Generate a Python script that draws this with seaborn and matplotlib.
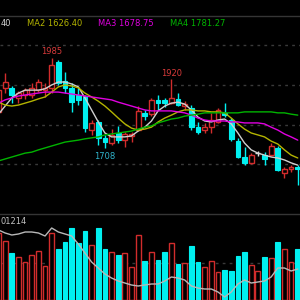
import seaborn as sns
import pandas as pd
import matplotlib.pyplot as plt

# velas (precios)
open_ = [1819, 1893, 1893, 1862, 1871, 1871, 1886, 1886, 1893, 1973, 1914, 1893, 1871, 1865, 1763, 1788,
         1739, 1723, 1754, 1732, 1745, 1763, 1816, 1812, 1856, 1856, 1846, 1859, 1837, 1831, 1772, 1763,
         1772, 1788, 1816, 1794, 1729, 1680, 1662, 1692, 1686, 1686, 1708, 1631, 1643, 1649]
high = [1893, 1939, 1899, 1883, 1893, 1908, 1920, 1908, 1985, 1979, 1942, 1908, 1893, 1871, 1794, 1794,
        1748, 1766, 1775, 1757, 1757, 1837, 1825, 1862, 1871, 1862, 1920, 1877, 1852, 1840, 1788, 1785,
        1816, 1831, 1846, 1800, 1739, 1711, 1692, 1698, 1695, 1723, 1714, 1649, 1655, 1655]
low = [1816, 1877, 1846, 1846, 1859, 1862, 1880, 1865, 1877, 1902, 1877, 1819, 1840, 1757, 1748, 1717,
       1708, 1717, 1723, 1711, 1726, 1760, 1794, 1806, 1825, 1834, 1843, 1837, 1825, 1763, 1751, 1754,
       1754, 1785, 1803, 1729, 1677, 1655, 1658, 1683, 1655, 1683, 1637, 1615, 1634, 1594]
close = [1886, 1911, 1871, 1877, 1886, 1893, 1911, 1893, 1963, 1908, 1893, 1850, 1856, 1769, 1785, 1739,
         1726, 1748, 1732, 1751, 1751, 1822, 1806, 1856, 1846, 1846, 1862, 1840, 1843, 1772, 1757, 1772,
         1794, 1825, 1809, 1736, 1680, 1662, 1686, 1692, 1674, 1714, 1640, 1643, 1649, 1643]

# medias moviles
ma1 = [1812, 1837, 1862, 1877, 1886, 1886, 1886, 1890, 1902, 1911, 1911, 1905, 1896, 1862, 1825, 1788,
       1754, 1742, 1742, 1742, 1745, 1760, 1772, 1791, 1822, 1837, 1846, 1849, 1843, 1825, 1803, 1791,
       1788, 1794, 1797, 1782, 1754, 1723, 1702, 1692, 1686, 1680, 1677, 1671, 1662, 1655]
ma2 = [1849, 1840, 1837, 1840, 1846, 1852, 1859, 1865, 1880, 1896, 1902, 1899, 1893, 1877, 1865, 1852,
       1837, 1819, 1800, 1782, 1769, 1763, 1766, 1772, 1788, 1800, 1809, 1819, 1825, 1825, 1822, 1822,
       1819, 1819, 1816, 1800, 1782, 1766, 1754, 1748, 1742, 1729, 1720, 1702, 1686, 1677]
ma3 = [1846, 1856, 1862, 1868, 1871, 1874, 1877, 1880, 1880, 1880, 1877, 1874, 1871, 1868, 1865, 1862,
       1859, 1856, 1849, 1843, 1837, 1831, 1825, 1822, 1822, 1822, 1822, 1819, 1816, 1809, 1800, 1794,
       1791, 1791, 1791, 1788, 1788, 1785, 1785, 1785, 1782, 1772, 1763, 1751, 1742, 1732]
ma4 = [1668, 1674, 1680, 1686, 1692, 1695, 1702, 1708, 1714, 1720, 1726, 1729, 1732, 1736, 1739, 1742,
       1748, 1751, 1754, 1757, 1760, 1766, 1772, 1776, 1785, 1791, 1797, 1800, 1806, 1809, 1812, 1816,
       1816, 1816, 1816, 1816, 1816, 1819, 1819, 1819, 1819, 1819, 1816, 1816, 1812, 1809]

# volumen y su media
vol = [67, 59, 47, 43, 38, 45, 49, 34, 67, 51, 58, 72, 57, 69, 55, 72, 51, 48, 45, 47, 33, 65, 39, 48,
       40, 48, 57, 36, 37, 54, 38, 33, 39, 28, 30, 29, 44, 48, 35, 29, 43, 42, 58, 51, 38, 51]
vol_ma = [70, 67, 65, 66, 68, 68, 67, 64, 72, 68, 66, 64, 56, 47, 38, 32, 26, 22, 19, 17, 15, 14, 15, 16,
          16, 19, 23, 22, 20, 14, 12, 11, 11, 8, 3, 8, 16, 20, 17, 18, 19, 23, 32, 32, 29, 31]

# textos tal como se ven (el resto queda fuera del recorte)
leyenda = ["40", "MA2 1626.40", "MA3 1678.75", "MA4 1781.27"]
colores_ma = ["#d0d0d0", "#b4b400", "#e000e0", "#00b400"]
texto_vol = "01214"
niveles = [2025, 1903, 1780, 1658]

df = pd.DataFrame({"i": range(len(open_)), "open": open_, "high": high, "low": low, "close": close,
                   "ma1": ma1, "ma2": ma2, "ma3": ma3, "ma4": ma4, "vol": vol, "vol_ma": vol_ma})

sns.set_theme(style="dark", rc={"axes.facecolor": "black", "figure.facecolor": "black"})
plt.rcParams["font.family"] = ["DejaVu Sans"]

ROJO = "#d22c2c"
CIAN = "#00f0f0"

fig = plt.figure(figsize=(3, 3), dpi=100)
ax = fig.add_axes([0, 86 / 300, 1, 198 / 300])
axv = fig.add_axes([0, 0, 1, 86 / 300])

for a in (ax, axv):
    a.set_xlim(0.2256, 45.338)
    a.set_xticks([])
    a.set_facecolor("black")
    for s in ["left", "right", "bottom"]:
        a.spines[s].set_visible(False)
    a.spines["top"].set_color("#353535")
    a.spines["top"].set_linewidth(1)
    a.grid(False)

ax.set_ylim(1504.5, 2114.3)
axv.set_ylim(0, 86)

for n in niveles:
    ax.axhline(n, color="#3a3a3a", lw=1, ls=(0, (2, 3)), zorder=0)
axv.axhline(37, color="#3a3a3a", lw=1, ls=(0, (2, 3)), zorder=0)

w = 0.72
for _, r in df.iterrows():
    x = r["i"]
    if r["close"] > r["open"]:
        c = ROJO
    elif r["close"] < r["open"]:
        c = CIAN
    else:
        c = "#e0e0e0"
    ax.vlines(x, r["low"], r["high"], color=c, lw=1, zorder=2)
    if c == CIAN:
        ax.bar(x, r["open"] - r["close"], bottom=r["close"], width=w, color=CIAN, edgecolor=CIAN, lw=0.8, zorder=3)
    elif c == ROJO:
        ax.bar(x, r["close"] - r["open"], bottom=r["open"], width=w, facecolor="black", edgecolor=ROJO, lw=1, zorder=3)
    else:
        ax.hlines(r["close"], x - w / 2, x + w / 2, color=c, lw=1, zorder=3)
    # volumen
    if r["close"] >= r["open"]:
        axv.bar(x, r["vol"], width=w, facecolor="black", edgecolor=ROJO, lw=1, zorder=2)
    else:
        axv.bar(x, r["vol"], width=w, color=CIAN, edgecolor=CIAN, lw=0.8, zorder=2)

for col, c in zip(["ma1", "ma2", "ma3", "ma4"], colores_ma):
    sns.lineplot(data=df, x="i", y=col, color=c, lw=1, ax=ax, zorder=4)
sns.lineplot(data=df, x="i", y="vol_ma", color="#b8b8b8", lw=1, ax=axv, zorder=4)
for a in (ax, axv):
    a.set_xlabel("")
    a.set_ylabel("")
    a.set_yticks([])

# maximos y minimos marcados
ax.annotate("1985", xy=(8, 1985), xytext=(0, 4.7), textcoords="offset points", ha="center", va="center",
            color="#d83a3a", fontsize=6)
ax.annotate("1920", xy=(26, 1920), xytext=(0, 4.3), textcoords="offset points", ha="center", va="center",
            color="#d83a3a", fontsize=6)
ax.annotate("1708", xy=(16, 1708), xytext=(0, -6.5), textcoords="offset points", ha="center", va="center",
            color="#30b4cc", fontsize=6)

# leyenda de medias
xs = [0.5, 27, 98, 170]
for t, c, xp in zip(leyenda, colores_ma, xs):
    fig.text(xp / 300, 1 - 24 / 300, t, ha="left", va="center", color=c, fontsize=6)
fig.text(0.5 / 300, 1 - 222 / 300, texto_vol, ha="left", va="center", color="#c0c0c0", fontsize=6)

plt.savefig("out.png", dpi=100, facecolor="black")
